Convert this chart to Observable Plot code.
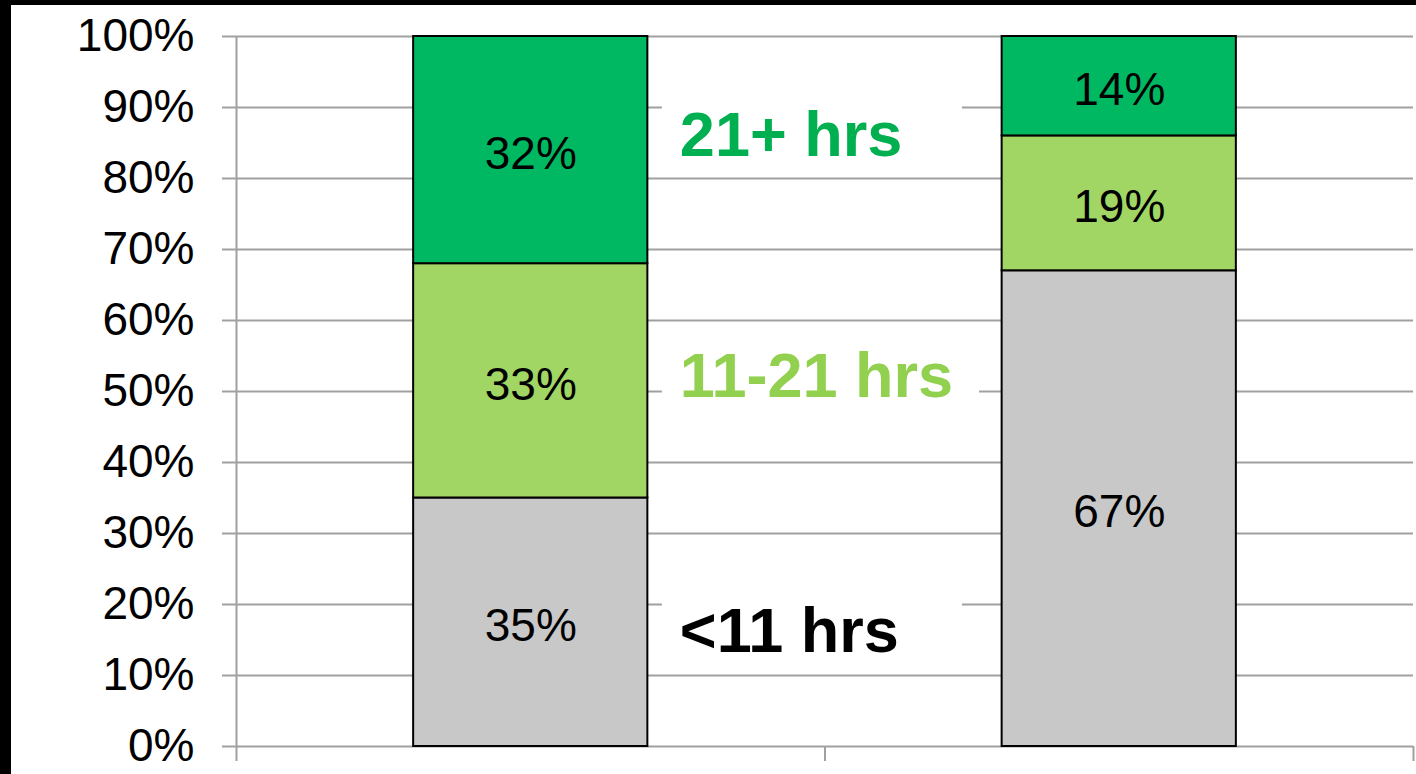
<!DOCTYPE html>
<html>
<head>
<meta charset="utf-8">
<script src="https://cdn.jsdelivr.net/npm/d3@7"></script>
<script src="https://cdn.jsdelivr.net/npm/@observablehq/plot@0.6"></script>
<style>
  html, body { margin: 0; padding: 0; background: #000; width: 1416px; height: 774px; overflow: hidden; }
  #chart { position: absolute; left: 11px; top: 5px; width: 1405px; height: 769px; background: #fff; }
  #chart svg { display: block; font-family: "Liberation Sans", Arial, sans-serif; }
</style>
</head>
<body>
<div id="chart"></div>
<script>
// ---- data ----
const categories = ["Bar 1", "Bar 2"];
const series = ["<11 hrs", "11-21 hrs", "21+ hrs"];
const lt11 = [35, 67];
const mid = [33, 19];
const top21 = [32, 14];
const yTicks = [0, 10, 20, 30, 40, 50, 60, 70, 80, 90, 100];
const barColors = ["#C8C8C8", "#A2D664", "#00B862"];
const labelColors = ["#000000", "#92D050", "#00B050"];

// ---- build stacked table ----
const seriesValues = [lt11, mid, top21];
const rows = categories.flatMap((c, i) => {
  let acc = 0;
  return series.map((s, j) => {
    const v = seriesValues[j][i];
    const r = {cat: c, i, series: s, value: v, y1: acc, y2: acc + v};
    acc += v;
    return r;
  });
});
const half = 0.199; // half bar width in band units
const gray = "#A0A0A0";
const firstBar = rows.filter(d => d.i === 0);
const labelMark = (s, dy) => Plot.text(firstBar.filter(d => d.series === s), {
  x: d => d.i + 0.5 + half,
  y: d => (d.y1 + d.y2) / 2,
  text: d => d.series,
  textAnchor: "start",
  dx: 32,
  dy,
  fontSize: 63,
  fontWeight: "bold",
  fill: labelColors[series.indexOf(s)],
  className: "serieslabel"
});

const chart = Plot.plot({
  width: 1405,
  height: 769,
  marginLeft: 225,
  marginRight: 3,
  marginTop: 31,
  marginBottom: 28,
  style: {fontFamily: "'Liberation Sans', Arial, sans-serif", background: "#fff", color: "#000"},
  x: {type: "linear", domain: [0, categories.length], axis: null},
  y: {domain: [0, 100], axis: null},
  color: {domain: series, range: barColors},
  marks: [
    Plot.gridY(yTicks, {stroke: gray, strokeOpacity: 1, strokeWidth: 2}),
    Plot.ruleX([0], {stroke: gray, strokeWidth: 2}),
    Plot.axisY({ticks: yTicks, tickSize: 14, tickPadding: 28, tickFormat: d => d + "%", fontSize: 46, stroke: gray, strokeWidth: 2, fill: "#000"}),
    Plot.axisX({ticks: d3.range(categories.length + 1), tickSize: 15, tickFormat: () => "", stroke: gray, strokeWidth: 2}),
    Plot.rect(rows, {
      x1: d => d.i + 0.5 - half,
      x2: d => d.i + 0.5 + half,
      y1: "y1",
      y2: "y2",
      fill: "series",
      stroke: "#000",
      strokeWidth: 2
    }),
    Plot.text(rows, {
      x: d => d.i + 0.5,
      y: d => (d.y1 + d.y2) / 2,
      text: d => d.value + "%",
      fontSize: 46,
      dy: 4,
      fill: "#000"
    }),
    labelMark("21+ hrs", -14),
    labelMark("11-21 hrs", -4),
    labelMark("<11 hrs", 10)
  ]
});
document.getElementById("chart").appendChild(chart);

// white boxes behind the series labels (text-box backgrounds)
chart.querySelectorAll("g.serieslabel text").forEach(t => {
  const b = t.getBBox();
  const rect = document.createElementNS("http://www.w3.org/2000/svg", "rect");
  rect.setAttribute("x", b.x - 18);
  rect.setAttribute("y", b.y);
  rect.setAttribute("width", Math.max(b.width + 44, 300));
  rect.setAttribute("height", b.height);
  rect.setAttribute("fill", "#fff");
  if (t.getAttribute("transform")) rect.setAttribute("transform", t.getAttribute("transform"));
  t.parentNode.insertBefore(rect, t);
});
</script>
</body>
</html>
